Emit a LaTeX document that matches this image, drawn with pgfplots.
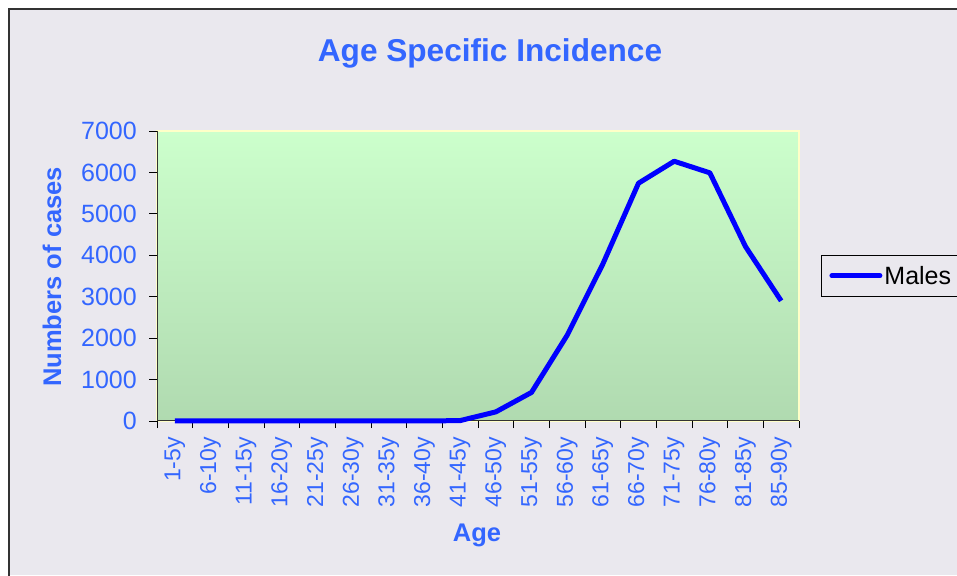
\documentclass[border=0pt]{standalone}
\usepackage{pgfplots}
\pgfplotsset{compat=1.18}
\usepackage{fontspec}
\setmainfont{Liberation Sans}
\definecolor{bg}{RGB}{234,232,238}
\definecolor{tblue}{RGB}{51,102,255}
\definecolor{ptop}{RGB}{204,255,204}
\definecolor{pbot}{RGB}{176,218,176}
\definecolor{pyel}{RGB}{255,255,200}
\begin{document}
\begin{tikzpicture}
\useasboundingbox (0pt,0pt) rectangle (957pt,575pt);
\fill[white] (0pt,0pt) rectangle (957pt,575pt);
\fill[bg] (9pt,0pt) rectangle (960pt,566pt);
\draw[black!80, line width=1.2pt] (9pt,-2pt) -- (9pt,566pt) -- (960pt,566pt);
\node[font=\bfseries\fontsize{31.6}{36}\selectfont, text=tblue] at (490pt,522pt) {Age Specific Incidence};
\begin{axis}[
  at={(157pt,154pt)}, anchor=south west,
  width=642pt, height=290pt, scale only axis,
  xmin=0.5, xmax=18.5, ymin=0, ymax=7000,
  axis background/.style={shade, top color=ptop, bottom color=pbot, draw=pyel, line width=1.5pt},
  axis x line*=bottom, axis y line*=left,
  axis line style={-, black!80, line width=1pt},
  tick align=outside,
  major tick length=8pt, minor tick length=7pt,
  ytick={0,1000,...,7000},
  xtick={1,...,18},
  minor xtick={0.5,1.5,...,18.5},
  major x tick style={draw=none},
  minor x tick style={black, line width=0.8pt},
  y tick style={black, line width=0.8pt},
  xticklabels={1-5y,6-10y,11-15y,16-20y,21-25y,26-30y,31-35y,36-40y,41-45y,46-50y,51-55y,56-60y,61-65y,66-70y,71-75y,76-80y,81-85y,85-90y},
  xticklabel style={yshift=-8pt, rotate=90, anchor=east, inner sep=0pt, text=tblue, font=\fontsize{23}{26}\selectfont},
  yticklabel style={xshift=-12pt, anchor=east, inner sep=0pt, text=tblue, font=\fontsize{25}{28}\selectfont},
  /pgf/number format/assume math mode=true,
  /pgf/number format/set thousands separator={},
  scaled y ticks=false,
  xlabel={Age},
  ylabel={Numbers of cases},
  xlabel style={at={(axis description cs:0.4984,-0.393)}, anchor=center, font=\bfseries\fontsize{25.5}{28}\selectfont, text=tblue},
  ylabel style={at={(axis description cs:-0.1636,0.497)}, anchor=center, font=\bfseries\fontsize{25.5}{28}\selectfont, text=tblue},
  legend style={at={(axis description cs:1.0343,0.4276)}, anchor=south west, draw=black, fill=none, line width=0.8pt,
    font=\fontsize{25}{28}\selectfont, inner xsep=8pt, inner ysep=9pt},
  legend image code/.code={\draw[#1, line width=5pt, line cap=round] (0pt,0pt) -- (48pt,0pt);},
  clip=false,
]
\addplot[blue, line width=5pt, line join=round] coordinates {
(1,0) (2,0) (3,0) (4,0) (5,0) (6,0) (7,0) (8,0) (9,10)
(10,220) (11,690) (12,2070) (13,3790) (14,5740) (15,6270) (16,5990) (17,4210) (18,2900)
};
\addlegendentry{Males}
\end{axis}
\end{tikzpicture}
\end{document}
